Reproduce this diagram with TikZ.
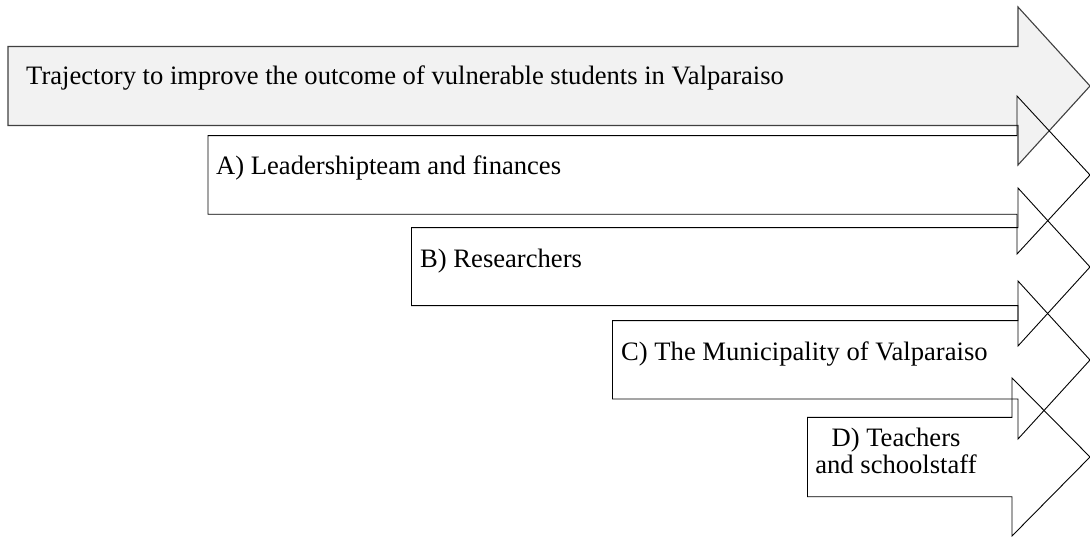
\documentclass[tikz,border=0pt]{standalone}
\usepackage{fontspec}
\setmainfont{Liberation Serif}
\definecolor{fillgray}{HTML}{F2F2F2}
\begin{document}
\begin{tikzpicture}[x=1pt,y=-1pt,
  blockarrow/.style={draw=black, line width=0.9pt, line join=miter},
  lbl/.style={font=\fontsize{26.6}{27}\selectfont, inner sep=0pt, anchor=base west}]
\useasboundingbox (0,0) rectangle (1090,537);
% arrow 1 (filled)
\path[blockarrow, fill=fillgray, draw=black!75, line width=1.1pt]
  (8,46.5) -- (1018,46.5) -- (1018,7) -- (1090,86) -- (1018,165) -- (1018,125.5) -- (8,125.5) -- cycle;
% arrow 2
\path[blockarrow]
  (208,135.7) -- (1017,135.7) -- (1017,96) -- (1090,175) -- (1017,254) -- (1017,214.3) -- (208,214.3) -- cycle;
% arrow 3
\path[blockarrow]
  (411.5,227.7) -- (1018,227.7) -- (1018,188) -- (1090,267) -- (1018,346) -- (1018,305.7) -- (411.5,305.7) -- cycle;
% arrow 4
\path[blockarrow]
  (612.5,320.7) -- (1018,320.7) -- (1018,281) -- (1090,360) -- (1018,439) -- (1018,399) -- (612.5,399) -- cycle;
% arrow 5
\path[blockarrow]
  (807.5,417.3) -- (1012,417.3) -- (1012,378) -- (1090,457) -- (1012,536) -- (1012,496.7) -- (807.5,496.7) -- cycle;
% labels
\node[lbl] (t1) at (26,85) {Trajectory to improve the outcome of vulnerable students in Valparaiso};
\node[lbl] (t2) at (216,175) {A) Leadershipteam and finances};
\node[lbl] (t3) at (420,268) {B) Researchers};
\node[lbl] (t4) at (621,361) {C) The Municipality of Valparaiso};
\node[lbl, anchor=center, align=center] (t5) at (896,451) {D) Teachers\\and schoolstaff};
\end{tikzpicture}
\end{document}
